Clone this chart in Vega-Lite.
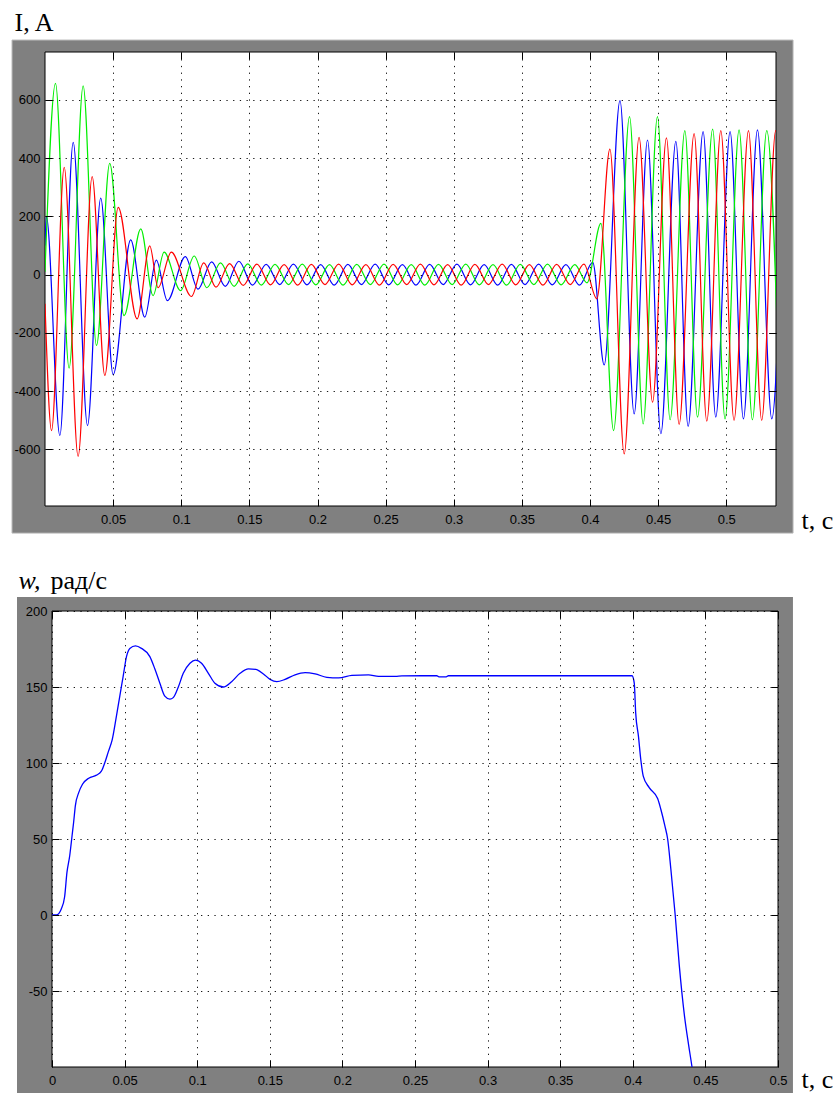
{
 "$schema": "https://vega.github.io/schema/vega-lite/v6.json",
 "background": "white",
 "padding": {"left": 11, "top": 9, "right": 0, "bottom": 0},
 "spacing": 33,
 "config": {
  "view": {"stroke": null, "fill": "white"},
  "axis": {"domain": false, "labelFont": "Liberation Sans", "labelFontSize": 13, "labelColor": "#000", "tickColor": "#000", "tickSize": -7, "tickWidth": 1, "labelPadding": 12, "gridColor": "#000", "gridDash": [1.3, 5.4], "gridOpacity": 0.9, "gridWidth": 1, "titleFont": "Liberation Serif", "titleFontSize": 26, "titleFontWeight": "normal", "titleColor": "#000", "labelFlush": false, "labelOverlap": false, "titleAngle": 0, "titleAlign": "left", "titleBaseline": "alphabetic"}
 },
 "datasets": {
  "cur": [
   {"p":"a","t":0,"I":100},{"p":"a","t":0.001,"I":200},{"p":"a","t":0.0109,"I":-552},{"p":"a","t":0.0207,"I":454},{"p":"a","t":0.0312,"I":-518},{"p":"a","t":0.0409,"I":263},{"p":"a","t":0.05,"I":-343},{"p":"a","t":0.0629,"I":119},{"p":"a","t":0.0732,"I":-146},{"p":"a","t":0.0817,"I":50},{"p":"a","t":0.0898,"I":-89},{"p":"a","t":0.103,"I":62},{"p":"a","t":0.1123,"I":-50},{"p":"a","t":0.1223,"I":44},{"p":"a","t":0.1323,"I":-40},{"p":"a","t":0.1423,"I":46},{"p":"a","t":0.1523,"I":-36},{"p":"a","t":0.1623,"I":35},{"p":"a","t":0.1723,"I":-34},{"p":"a","t":0.1823,"I":36},{"p":"a","t":0.1923,"I":-35},{"p":"a","t":0.2023,"I":34},{"p":"a","t":0.2123,"I":-36},{"p":"a","t":0.2223,"I":35},{"p":"a","t":0.2323,"I":-34},{"p":"a","t":0.2423,"I":36},{"p":"a","t":0.2523,"I":-35},{"p":"a","t":0.2623,"I":34},{"p":"a","t":0.2723,"I":-36},{"p":"a","t":0.2823,"I":35},{"p":"a","t":0.2923,"I":-34},{"p":"a","t":0.3023,"I":36},{"p":"a","t":0.3123,"I":-35},{"p":"a","t":0.3223,"I":34},{"p":"a","t":0.3323,"I":-36},{"p":"a","t":0.3423,"I":35},{"p":"a","t":0.3523,"I":-34},{"p":"a","t":0.3623,"I":36},{"p":"a","t":0.3723,"I":-35},{"p":"a","t":0.3823,"I":34},{"p":"a","t":0.3923,"I":-36},{"p":"a","t":0.402,"I":42},{"p":"a","t":0.4104,"I":-310},{"p":"a","t":0.422,"I":597},{"p":"a","t":0.4324,"I":-478},{"p":"a","t":0.4422,"I":462},{"p":"a","t":0.452,"I":-546},{"p":"a","t":0.463,"I":457},{"p":"a","t":0.472,"I":-521},{"p":"a","t":0.483,"I":491},{"p":"a","t":0.4923,"I":-489},{"p":"a","t":0.5028,"I":491},{"p":"a","t":0.5126,"I":-495},{"p":"a","t":0.5229,"I":497},{"p":"a","t":0.5334,"I":-495},{"p":"a","t":0.5429,"I":497},
   {"p":"b","t":0,"I":10},{"p":"b","t":0.0077,"I":656},{"p":"b","t":0.0177,"I":-321},{"p":"b","t":0.028,"I":648},{"p":"b","t":0.0378,"I":-243},{"p":"b","t":0.0475,"I":382},{"p":"b","t":0.058,"I":-141},{"p":"b","t":0.0703,"I":157},{"p":"b","t":0.0793,"I":-72},{"p":"b","t":0.0874,"I":77},{"p":"b","t":0.0995,"I":-55},{"p":"b","t":0.1095,"I":64},{"p":"b","t":0.1188,"I":-45},{"p":"b","t":0.1288,"I":40},{"p":"b","t":0.1388,"I":-40},{"p":"b","t":0.1488,"I":37},{"p":"b","t":0.1588,"I":-36},{"p":"b","t":0.1688,"I":35},{"p":"b","t":0.1788,"I":-34},{"p":"b","t":0.1888,"I":36},{"p":"b","t":0.1988,"I":-35},{"p":"b","t":0.2088,"I":34},{"p":"b","t":0.2188,"I":-36},{"p":"b","t":0.2288,"I":35},{"p":"b","t":0.2388,"I":-34},{"p":"b","t":0.2488,"I":36},{"p":"b","t":0.2588,"I":-35},{"p":"b","t":0.2688,"I":34},{"p":"b","t":0.2788,"I":-36},{"p":"b","t":0.2888,"I":35},{"p":"b","t":0.2988,"I":-34},{"p":"b","t":0.3088,"I":36},{"p":"b","t":0.3188,"I":-35},{"p":"b","t":0.3288,"I":34},{"p":"b","t":0.3388,"I":-36},{"p":"b","t":0.3488,"I":35},{"p":"b","t":0.3588,"I":-34},{"p":"b","t":0.3688,"I":36},{"p":"b","t":0.3788,"I":-35},{"p":"b","t":0.3888,"I":34},{"p":"b","t":0.3978,"I":-28},{"p":"b","t":0.408,"I":176},{"p":"b","t":0.4173,"I":-535},{"p":"b","t":0.429,"I":542},{"p":"b","t":0.439,"I":-512},{"p":"b","t":0.4495,"I":542},{"p":"b","t":0.4588,"I":-498},{"p":"b","t":0.4696,"I":494},{"p":"b","t":0.4789,"I":-489},{"p":"b","t":0.49,"I":499},{"p":"b","t":0.4991,"I":-495},{"p":"b","t":0.5094,"I":497},{"p":"b","t":0.5192,"I":-498},{"p":"b","t":0.5297,"I":494},{"p":"b","t":0.5395,"I":-495},
   {"p":"c","t":0,"I":-100},{"p":"c","t":0.0048,"I":-535},{"p":"c","t":0.0141,"I":368},{"p":"c","t":0.0243,"I":-624},{"p":"c","t":0.0346,"I":336},{"p":"c","t":0.0439,"I":-346},{"p":"c","t":0.0537,"I":231},{"p":"c","t":0.0676,"I":-152},{"p":"c","t":0.0769,"I":99},{"p":"c","t":0.083,"I":-45},{"p":"c","t":0.0927,"I":77},{"p":"c","t":0.1075,"I":-75},{"p":"c","t":0.1165,"I":40},{"p":"c","t":0.1255,"I":-43},{"p":"c","t":0.1355,"I":38},{"p":"c","t":0.1455,"I":-37},{"p":"c","t":0.1555,"I":36},{"p":"c","t":0.1655,"I":-35},{"p":"c","t":0.1755,"I":34},{"p":"c","t":0.1855,"I":-36},{"p":"c","t":0.1955,"I":35},{"p":"c","t":0.2055,"I":-34},{"p":"c","t":0.2155,"I":36},{"p":"c","t":0.2255,"I":-35},{"p":"c","t":0.2355,"I":34},{"p":"c","t":0.2455,"I":-36},{"p":"c","t":0.2555,"I":35},{"p":"c","t":0.2655,"I":-34},{"p":"c","t":0.2755,"I":36},{"p":"c","t":0.2855,"I":-35},{"p":"c","t":0.2955,"I":34},{"p":"c","t":0.3055,"I":-36},{"p":"c","t":0.3155,"I":35},{"p":"c","t":0.3255,"I":-34},{"p":"c","t":0.3355,"I":36},{"p":"c","t":0.3455,"I":-35},{"p":"c","t":0.3555,"I":34},{"p":"c","t":0.3655,"I":-36},{"p":"c","t":0.3755,"I":35},{"p":"c","t":0.3855,"I":-34},{"p":"c","t":0.3955,"I":36},{"p":"c","t":0.405,"I":-83},{"p":"c","t":0.4146,"I":431},{"p":"c","t":0.4251,"I":-615},{"p":"c","t":0.436,"I":471},{"p":"c","t":0.4459,"I":-438},{"p":"c","t":0.4561,"I":469},{"p":"c","t":0.4654,"I":-514},{"p":"c","t":0.4764,"I":484},{"p":"c","t":0.4857,"I":-503},{"p":"c","t":0.496,"I":494},{"p":"c","t":0.5057,"I":-500},{"p":"c","t":0.5163,"I":494},{"p":"c","t":0.526,"I":-500},{"p":"c","t":0.5363,"I":494},{"p":"c","t":0.546,"I":-500}
  ],
  "spd": [
   {"t":0,"w":0},{"t":0.003,"w":0},{"t":0.0064,"w":4},{"t":0.0087,"w":12},{"t":0.0103,"w":28},{"t":0.0122,"w":39},{"t":0.0138,"w":52},{"t":0.0149,"w":61},{"t":0.0161,"w":72},{"t":0.0184,"w":80.5},{"t":0.021,"w":86},{"t":0.0253,"w":90},{"t":0.0306,"w":92},{"t":0.034,"w":94.6},{"t":0.0363,"w":100},{"t":0.039,"w":108},{"t":0.0414,"w":115},{"t":0.0444,"w":131},{"t":0.0467,"w":144},{"t":0.049,"w":157},{"t":0.0513,"w":170},{"t":0.0536,"w":175.4},{"t":0.0575,"w":177},{"t":0.0616,"w":175.4},{"t":0.0674,"w":170},{"t":0.0708,"w":162},{"t":0.0743,"w":152.5},{"t":0.0777,"w":144},{"t":0.0812,"w":142},{"t":0.0835,"w":143},{"t":0.087,"w":150},{"t":0.0904,"w":159},{"t":0.095,"w":165.6},{"t":0.0989,"w":167.7},{"t":0.103,"w":165.6},{"t":0.1077,"w":159},{"t":0.1122,"w":152.5},{"t":0.118,"w":150},{"t":0.1237,"w":153.5},{"t":0.1295,"w":159},{"t":0.1353,"w":161.9},{"t":0.1403,"w":161.6},{"t":0.1456,"w":158.6},{"t":0.1502,"w":155},{"t":0.1548,"w":153.5},{"t":0.1605,"w":155},{"t":0.1674,"w":158},{"t":0.1743,"w":159.4},{"t":0.1812,"w":158.6},{"t":0.1893,"w":156.4},{"t":0.1974,"w":156},{"t":0.2065,"w":157.6},{"t":0.218,"w":158},{"t":0.2249,"w":157},{"t":0.2365,"w":157},{"t":0.241,"w":157.3},{"t":0.2549,"w":157.4},{"t":0.265,"w":157.4},{"t":0.2665,"w":156.6},{"t":0.2715,"w":156.6},{"t":0.273,"w":157.4},{"t":0.3,"w":157.4},{"t":0.35,"w":157.4},{"t":0.3995,"w":157.4},{"t":0.401,"w":152.5},{"t":0.402,"w":132.8},{"t":0.4039,"w":117.5},{"t":0.4055,"w":102.3},{"t":0.4072,"w":91.4},{"t":0.4113,"w":83.8},{"t":0.4171,"w":76.6},{"t":0.4193,"w":69.6},{"t":0.4221,"w":58.6},{"t":0.424,"w":50},{"t":0.4262,"w":30.3},{"t":0.4292,"w":0},{"t":0.432,"w":-33},{"t":0.4355,"w":-65.7},{"t":0.4384,"w":-85.3},{"t":0.4407,"w":-99.5},{"t":0.4425,"w":-112}
  ]
 },
 "vconcat": [
  {
   "width": 731,
   "height": 454,
   "resolve": {"axis": {"x": "independent", "y": "independent"}},
   "layer": [
    {
     "data": {"values": [{}]},
     "mark": {"type": "rect", "fill": "#808080", "stroke": "#b8b8b8", "strokeWidth": 1, "clip": false},
     "encoding": {
      "x": {"datum": -0.0242, "type": "quantitative", "scale": {"domain": [0, 0.5365], "nice": false, "zero": false}, "axis": null},
      "x2": {"datum": 0.549},
      "y": {"datum": 805, "type": "quantitative", "scale": {"domain": [-794, 764], "nice": false, "zero": false}, "axis": null},
      "y2": {"datum": -887}
     }
    },
    {
     "data": {"values": [{}]},
     "mark": {"type": "rect", "fill": "white", "stroke": "#000", "strokeWidth": 1, "clip": false},
     "encoding": {
      "x": {"datum": 0, "type": "quantitative", "scale": {"domain": [0, 0.5365], "nice": false, "zero": false}, "axis": {"orient": "top", "values": [0.05,0.1,0.15,0.2,0.25,0.3,0.35,0.4,0.45,0.5], "labels": false, "grid": false, "title": null, "zindex": 1}},
      "x2": {"datum": 0.5365},
      "y": {"datum": 764, "type": "quantitative", "scale": {"domain": [-794, 764], "nice": false, "zero": false}, "axis": {"orient": "right", "values": [-600,-400,-200,0,200,400,600], "labels": false, "grid": false, "title": null, "zindex": 1}},
      "y2": {"datum": -794}
     }
    },
    {
     "data": {"name": "cur"},
     "mark": {"type": "line", "interpolate": "monotone", "strokeWidth": 1.2, "clip": true},
     "encoding": {
      "x": {"field": "t", "type": "quantitative", "scale": {"domain": [0, 0.5365], "nice": false, "zero": false}, "axis": {"orient": "bottom", "values": [0.05,0.1,0.15,0.2,0.25,0.3,0.35,0.4,0.45,0.5], "labelExpr": "toString(datum.value)", "grid": true, "labelPadding": 14, "title": "t, c", "titleX": 756, "titleY": 22, "zindex": 1}},
      "y": {"field": "I", "type": "quantitative", "scale": {"domain": [-794, 764], "nice": false, "zero": false}, "axis": {"orient": "left", "values": [-600,-400,-200,0,200,400,600], "labelExpr": "toString(datum.value)", "grid": true, "title": "I, A", "titleX": -31, "titleY": -22, "zindex": 1}},
      "color": {"field": "p", "type": "nominal", "scale": {"domain": ["a","b","c"], "range": ["#0000ff","#00ee00","#ff0000"]}, "legend": null}
     }
    }
   ]
  },
  {
   "width": 733,
   "height": 456,
   "resolve": {"axis": {"x": "independent", "y": "independent"}},
   "layer": [
    {
     "data": {"values": [{}]},
     "mark": {"type": "rect", "fill": "#808080", "clip": false},
     "encoding": {
      "x": {"datum": -0.0241, "type": "quantitative", "scale": {"domain": [-0.00482, 0.5], "nice": false, "zero": false}, "axis": null},
      "x2": {"datum": 0},
      "y": {"datum": 209.2, "type": "quantitative", "scale": {"domain": [-100, 200], "nice": false, "zero": false}, "axis": null},
      "y2": {"datum": -125}
     }
    },
    {
     "data": {"values": [{}]},
     "mark": {"type": "rect", "fill": "#808080", "clip": false},
     "encoding": {
      "x": {"datum": 0.5, "type": "quantitative", "scale": {"domain": [-0.00482, 0.5], "nice": false, "zero": false}, "axis": null},
      "x2": {"datum": 0.5103},
      "y": {"datum": 209.2, "type": "quantitative", "scale": {"domain": [-100, 200], "nice": false, "zero": false}, "axis": null},
      "y2": {"datum": -125}
     }
    },
    {
     "data": {"values": [{}]},
     "mark": {"type": "rect", "fill": "#808080", "clip": false},
     "encoding": {
      "x": {"datum": 0, "type": "quantitative", "scale": {"domain": [-0.00482, 0.5], "nice": false, "zero": false}, "axis": null},
      "x2": {"datum": 0.5},
      "y": {"datum": 209.2, "type": "quantitative", "scale": {"domain": [-100, 200], "nice": false, "zero": false}, "axis": null},
      "y2": {"datum": 200}
     }
    },
    {
     "data": {"values": [{}]},
     "mark": {"type": "rect", "fill": "#808080", "clip": false},
     "encoding": {
      "x": {"datum": 0, "type": "quantitative", "scale": {"domain": [-0.00482, 0.5], "nice": false, "zero": false}, "axis": null},
      "x2": {"datum": 0.5},
      "y": {"datum": -100, "type": "quantitative", "scale": {"domain": [-100, 200], "nice": false, "zero": false}, "axis": null},
      "y2": {"datum": -125}
     }
    },
    {
     "data": {"values": [{}]},
     "mark": {"type": "rect", "filled": false, "stroke": "#000", "strokeWidth": 1, "clip": false},
     "encoding": {
      "x": {"datum": 0, "type": "quantitative", "scale": {"domain": [-0.00482, 0.5], "nice": false, "zero": false}, "axis": {"orient": "top", "values": [0,0.05,0.1,0.15,0.2,0.25,0.3,0.35,0.4,0.45,0.5], "labels": false, "grid": false, "title": "рад/с", "titleX": 5, "titleY": -23, "zindex": 1}},
      "x2": {"datum": 0.5},
      "y": {"datum": 200, "type": "quantitative", "scale": {"domain": [-100, 200], "nice": false, "zero": false}, "axis": {"orient": "right", "values": [-50,0,50,100,150,200], "labels": false, "grid": true, "title": null, "zindex": 0}},
      "y2": {"datum": -100}
     }
    },
    {
     "data": {"name": "spd"},
     "mark": {"type": "line", "interpolate": "monotone", "strokeWidth": 1.3, "color": "#0000ff", "clip": true},
     "encoding": {
      "x": {"field": "t", "type": "quantitative", "scale": {"domain": [-0.00482, 0.5], "nice": false, "zero": false}, "axis": {"orient": "bottom", "values": [0,0.05,0.1,0.15,0.2,0.25,0.3,0.35,0.4,0.45,0.5], "labelExpr": "toString(datum.value)", "grid": true, "labelPadding": 14, "title": "t, c", "titleX": 756, "titleY": 20, "zindex": 1}},
      "y": {"field": "w", "type": "quantitative", "scale": {"domain": [-100, 200], "nice": false, "zero": false}, "axis": {"orient": "left", "offset": -7, "values": [-50,0,50,100,150,200], "labelExpr": "toString(datum.value)", "grid": false, "title": "w,", "titleFontStyle": "italic", "titleX": -34, "titleY": -23, "zindex": 1}}
     }
    }
   ]
  }
 ]
}
